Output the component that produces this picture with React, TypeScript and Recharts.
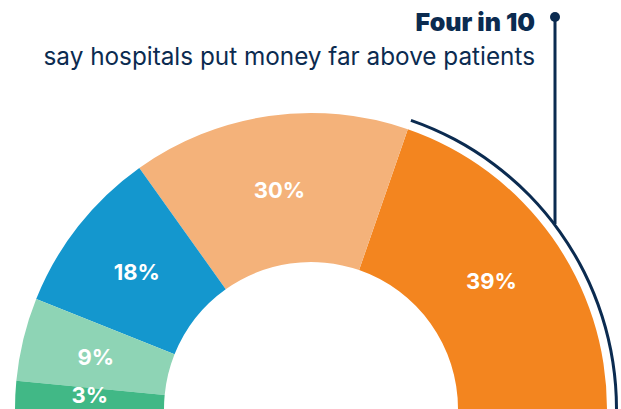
import React from 'react';
import { PieChart, Pie, Cell } from 'recharts';

const shares = [
    { name: 'Far above', value: 39 },
    { name: 'Somewhat above', value: 30 },
    { name: 'Equal', value: 18 },
    { name: 'Somewhat below', value: 9 },
    { name: 'Far below', value: 3 },
];
const sliceColors = ['#F3851F', '#F4B27A', '#1497CE', '#8ED4B5', '#41B886'];
const highlight = [
    { name: 'Four in 10', value: 39 },
    { name: 'rest', value: 60 },
];

const NAVY = '#0B2B50';
const W = 621;
const H = 409;
const CX = 311;
const CY = 409;
const RAD = Math.PI / 180;

const renderLabel = (props: any) => {
    const { cx, cy, midAngle, innerRadius, outerRadius, value } = props;
    const r = (innerRadius + outerRadius) / 2;
    const x = cx + r * Math.cos(-midAngle * RAD);
    // keep the thin bottom label inside the frame
    const y = Math.min(cy + r * Math.sin(-midAngle * RAD), 395);
    return (
        <text
            x={x}
            y={y}
            fill="#fff"
            textAnchor="middle"
            dominantBaseline="central"
            fontFamily="Inter, sans-serif"
            fontWeight={700}
            fontSize={22}
        >
            {`${value}%`}
        </text>
    );
};

export default function App() {
    return (
        <div style={{ position: 'absolute', left: 0, top: 0, width: W, height: H, background: '#fff' }}>
            <PieChart width={W} height={H} margin={{ top: 0, right: 0, bottom: 0, left: 0 }}>
                <Pie
                    data={shares}
                    dataKey="value"
                    cx={CX}
                    cy={CY}
                    startAngle={0}
                    endAngle={180}
                    innerRadius={147}
                    outerRadius={296}
                    stroke="none"
                    label={renderLabel}
                    labelLine={false}
                    isAnimationActive={false}
                >
                    {shares.map((s, i) => (
                        <Cell key={s.name} fill={sliceColors[i]} />
                    ))}
                </Pie>
                <Pie
                    data={highlight}
                    dataKey="value"
                    cx={CX}
                    cy={CY}
                    startAngle={0}
                    endAngle={180}
                    innerRadius={304}
                    outerRadius={307}
                    stroke="none"
                    isAnimationActive={false}
                >
                    <Cell fill={NAVY} />
                    <Cell fill="transparent" />
                </Pie>
            </PieChart>
            <svg width={W} height={H} style={{ position: 'absolute', left: 0, top: 0, pointerEvents: 'none' }}>
                <line x1={555} y1={17} x2={555} y2={224} stroke={NAVY} strokeWidth={3} />
                <circle cx={555} cy={17} r={5} fill={NAVY} />
                <text x={535} y={31} textAnchor="end" fill={NAVY} fontFamily="Inter, sans-serif" fontWeight={900} fontSize={25}>
                    Four in 10
                </text>
                <text x={535} y={65} textAnchor="end" fill={NAVY} fontFamily="Inter, sans-serif" fontWeight={400} fontSize={24.3}>
                    say hospitals put money far above patients
                </text>
            </svg>
        </div>
    );
}
